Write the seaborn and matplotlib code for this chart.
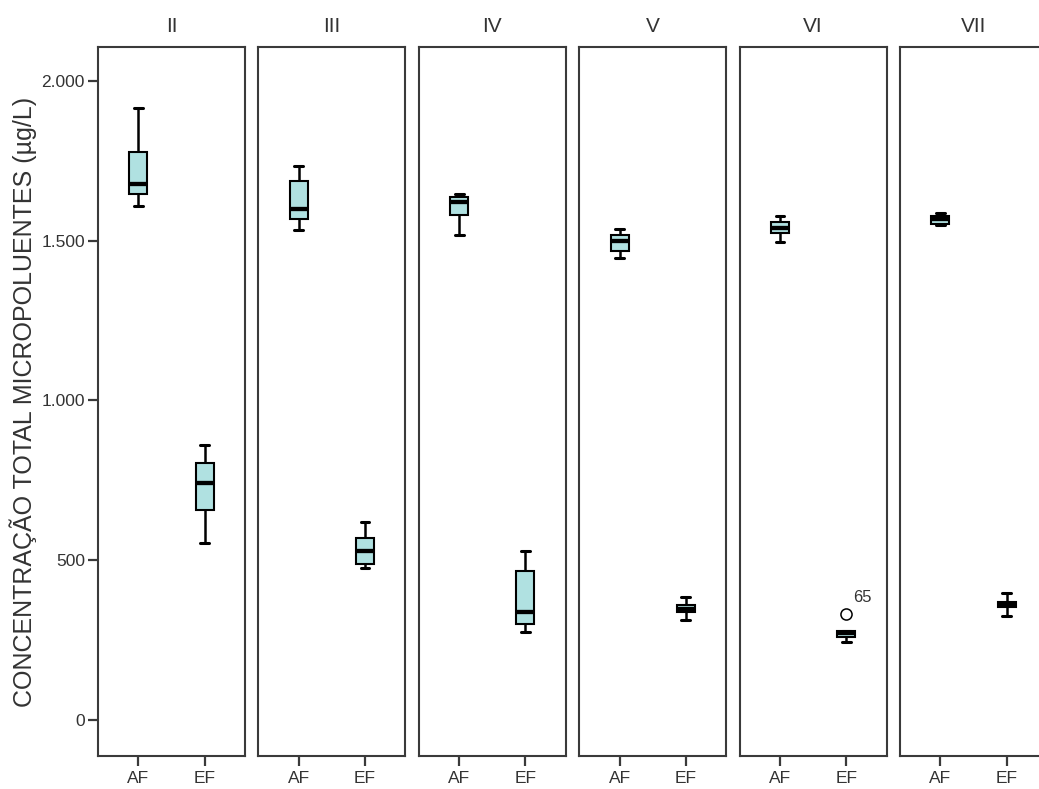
import numpy as np
import pandas as pd
import matplotlib
matplotlib.use("Agg")
import matplotlib.pyplot as plt
from matplotlib.ticker import FuncFormatter, FixedLocator
import seaborn as sns

# ---------------- data ----------------
panels = ["II", "III", "IV", "V", "VI", "VII"]
groups = ["AF", "EF"]

# five-number summaries per panel (whisker low, Q1, median, Q3, whisker high)
af_whisker_low = [1607, 1534, 1518, 1447, 1495, 1549]
af_q1 = [1645, 1567, 1581, 1468, 1525, 1552]
af_median = [1677, 1599, 1622, 1500, 1541, 1567]
af_q3 = [1777, 1687, 1638, 1518, 1558, 1578]
af_whisker_high = [1914, 1735, 1645, 1536, 1577, 1588]

ef_whisker_low = [553, 475, 274, 313, 245, 326]
ef_q1 = [657, 487, 299, 337, 261, 353]
ef_median = [741, 529, 339, 347, 273, 362]
ef_q3 = [803, 569, 466, 360, 279, 370]
ef_whisker_high = [859, 618, 529, 386, 279, 397]

outlier_panels = ["VI"]
outlier_groups = ["EF"]
outlier_values = [332]
outlier_labels = ["65"]

y_ticks = [0, 500, 1000, 1500, 2000]
y_label = "CONCENTRAÇÃO TOTAL MICROPOLUENTES (µg/L)"

# ---------------- tidy frame ----------------
rows = []
stats = {
    "AF": [af_whisker_low, af_q1, af_median, af_q3, af_whisker_high],
    "EF": [ef_whisker_low, ef_q1, ef_median, ef_q3, ef_whisker_high],
}
for i, p in enumerate(panels):
    for g in groups:
        for arr in stats[g]:
            rows.append({"panel": p, "group": g, "value": arr[i]})
df = pd.DataFrame(rows)
out_df = pd.DataFrame({"panel": outlier_panels, "group": outlier_groups,
                       "value": outlier_values, "label": outlier_labels})

# ---------------- style ----------------
sns.set_theme(style="white")
plt.rcParams["font.family"] = ["Liberation Sans", "DejaVu Sans"]
text_color = "#333333"
frame_color = "#3a3a3a"
box_color = "#b0e1e1"

W, H = 1039, 789
fig = plt.figure(figsize=(W / 100, H / 100), dpi=100)

left0, pitch, width = 98, 160.4, 147
top_px, bottom_px = 47, 756

axes = []
for i, p in enumerate(panels):
    ax = fig.add_axes([(left0 + i * pitch) / W, 1 - bottom_px / H,
                       width / W, (bottom_px - top_px) / H])
    axes.append(ax)
    sub = df[df["panel"] == p]
    sns.boxplot(data=sub, x="group", y="value", order=groups, ax=ax,
                color=box_color, saturation=1, width=0.27, whis=(0, 100),
                linecolor="black", linewidth=1.5, showfliers=False,
                medianprops=dict(linewidth=3.1, color="black"),
                capprops=dict(linewidth=2.2, color="black"),
                whiskerprops=dict(linewidth=1.8, color="black"))
    osub = out_df[out_df["panel"] == p]
    if len(osub):
        sns.stripplot(data=osub, x="group", y="value", order=groups, ax=ax,
                      jitter=False, color="white", edgecolor="black",
                      linewidth=1.1, size=8)
        for _, r in osub.iterrows():
            ax.annotate(r["label"], (groups.index(r["group"]), r["value"]),
                        xytext=(5, 6), textcoords="offset points",
                        ha="left", va="bottom", fontsize=12, color=text_color)

    ax.set_xlim(-0.61, 1.61)
    ax.set_ylim(-113, 2106)
    ax.yaxis.set_major_locator(FixedLocator(y_ticks))
    ax.yaxis.set_major_formatter(
        FuncFormatter(lambda v, pos: f"{int(round(v)):,}".replace(",", ".")))
    for s in ax.spines.values():
        s.set_visible(True)
        s.set_color(frame_color)
        s.set_linewidth(1.5)
    ax.set_xlabel("")
    ax.set_title(p, fontsize=15, color=text_color, pad=11)
    ax.tick_params(axis="x", bottom=True, direction="out", length=7.5,
                   width=1.6, color=frame_color, labelsize=12.5,
                   labelcolor=text_color, pad=3)
    if i == 0:
        ax.tick_params(axis="y", left=True, direction="out", length=7.5,
                       width=1.6, color=frame_color, labelsize=12.5,
                       labelcolor=text_color, pad=2)
        ax.set_ylabel(y_label, fontsize=18, color=text_color)
        ax.yaxis.set_label_coords(-0.415, 0.5)
    else:
        ax.tick_params(axis="y", left=False, labelleft=False)
        ax.set_ylabel("")

fig.savefig("out.png", dpi=100)
